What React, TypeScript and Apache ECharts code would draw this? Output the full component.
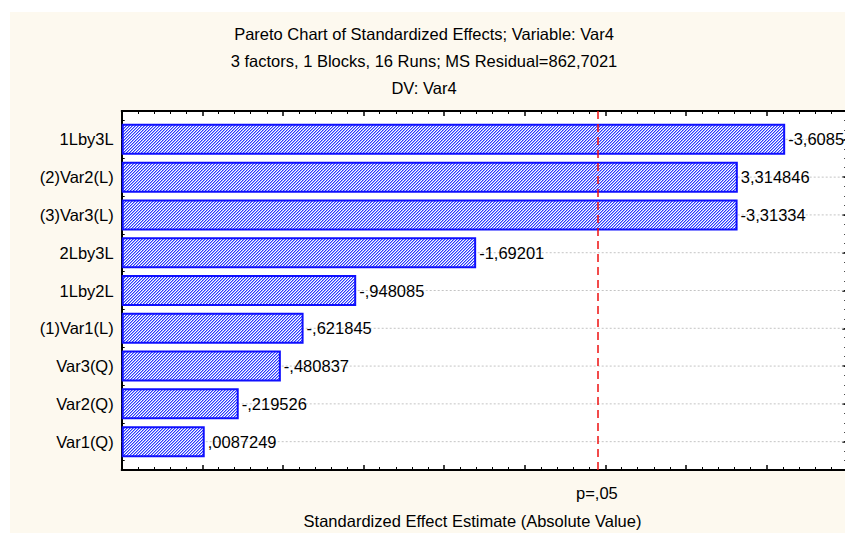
import React, { useEffect, useRef } from "react";
import * as echarts from "echarts";

// ---- data ----
const categories = [
  "1Lby3L",
  "(2)Var2(L)",
  "(3)Var3(L)",
  "2Lby3L",
  "1Lby2L",
  "(1)Var1(L)",
  "Var3(Q)",
  "Var2(Q)",
  "Var1(Q)",
];
const effects = [-3.6085, 3.314846, -3.31334, -1.69201, -0.948085, -0.621845, -0.480837, -0.219526, 0.0087249];
const effectLabels = ["-3,6085", "3,314846", "-3,31334", "-1,69201", "-,948085", "-,621845", "-,480837", "-,219526", ",0087249"];
const criticalValue = 2.446912;
const criticalLabel = "p=,05";
const titleLines = [
  "Pareto Chart of Standardized Effects; Variable: Var4",
  "3 factors, 1 Blocks, 16 Runs; MS Residual=862,7021",
  "DV: Var4",
];
const xAxisTitle = "Standardized Effect Estimate (Absolute Value)";
const xMin = -0.5;
const xMax = 4.0;
const xStep = 0.5;
const yMin = 0.25;
const yMax = 9.75;
const rowPositions = categories.map((_, i) => i + 1);

const FONT = "'Liberation Sans', Arial, sans-serif";
const FS = 16.5;

export default function App() {
  const ref = useRef<HTMLDivElement>(null);
  useEffect(() => {
    if (!ref.current) return;
    const chart = echarts.init(ref.current, undefined, { renderer: "svg" });

    const c = document.createElement("canvas");
    c.width = 3;
    c.height = 3;
    const ctx = c.getContext("2d")!;
    ctx.fillStyle = "#ffffff";
    ctx.fillRect(0, 0, 3, 3);
    ctx.fillStyle = "#2a3aff";
    for (let i = 0; i < 3; i++) {
      ctx.fillRect(i, 2 - i, 1, 1);
    }
    ctx.fillStyle = "#9aa2ff";
    for (let i = 0; i < 3; i++) {
      ctx.fillRect((i + 1) % 3, 2 - i, 1, 1);
    }
    const pattern = { image: c.toDataURL(), repeat: "repeat", imageWidth: 3, imageHeight: 3 };

    const data = effects.map((v, i) => [Math.abs(v), rowPositions[i], i]);

    const axisLineStyle = { color: "#000", width: 2 };

    const option: any = {
      animation: false,
      backgroundColor: "#ffffff",
      graphic: [
        { type: "rect", z: -10, shape: { x: 10, y: 12, width: 840, height: 530 }, style: { fill: "#fdf9ef" } },
        ...titleLines.map((t, i) => ({
          type: "text",
          x: 424,
          y: 34 + i * 27,
          style: { text: t, align: "center", verticalAlign: "middle", fill: "#000", fontSize: FS, fontFamily: FONT },
        })),
      ],
      grid: {
        left: 121.7,
        top: 111,
        width: 725.6,
        height: 359,
        show: true,
        backgroundColor: "#ffffff",
        borderWidth: 0,
        containLabel: false,
        outerBoundsMode: "none",
      },
      xAxis: [
        {
          type: "value",
          position: "bottom",
          min: xMin,
          max: xMax,
          interval: xStep,
          axisLine: { show: true, onZero: false, lineStyle: axisLineStyle },
          axisTick: { show: true, inside: true, length: 5, lineStyle: { color: "#000", width: 1.5 } },
          minorTick: { show: true, splitNumber: 5, length: 3, lineStyle: { color: "#000", width: 1 } },
          splitLine: { show: false },
          axisLabel: {
            show: true,
            customValues: [criticalValue],
            formatter: () => criticalLabel,
            margin: 14,
            color: "#000",
            fontSize: FS,
            fontFamily: FONT,
          },
          name: xAxisTitle,
          nameLocation: "middle",
          nameGap: 42,
          nameTextStyle: { color: "#000", fontSize: FS, fontFamily: FONT, padding: [0, 24, 0, 0] },
        },
        {
          type: "value",
          position: "top",
          min: xMin,
          max: xMax,
          interval: xStep,
          axisLine: { show: true, onZero: false, lineStyle: axisLineStyle },
          axisTick: { show: true, inside: true, length: 5, lineStyle: { color: "#000", width: 1.5 } },
          minorTick: { show: true, splitNumber: 5, length: 3, lineStyle: { color: "#000", width: 1 } },
          splitLine: { show: false },
          axisLabel: { show: false },
        },
      ],
      yAxis: [
        {
          type: "value",
          position: "left",
          inverse: true,
          min: yMin,
          max: yMax,
          axisLine: { show: true, onZero: false, lineStyle: axisLineStyle },
          axisTick: { show: true, inside: true, length: 5, customValues: rowPositions, lineStyle: { color: "#000", width: 1.5 } },
          splitLine: { show: false },
          axisLabel: {
            show: true,
            customValues: rowPositions,
            formatter: (v: number) => categories[Math.round(v) - 1] ?? "",
            margin: 8,
            color: "#000",
            fontSize: FS,
            fontFamily: FONT,
          },
        },
        {
          type: "value",
          position: "left",
          inverse: true,
          min: yMin,
          max: yMax,
          interval: 0.25,
          axisLine: { show: false, onZero: false },
          axisTick: { show: true, inside: true, length: 3, lineStyle: { color: "#000", width: 1 } },
          splitLine: { show: false },
          axisLabel: { show: false },
        },
        {
          type: "value",
          position: "right",
          inverse: true,
          min: yMin,
          max: yMax,
          interval: 0.25,
          axisLine: { show: true, onZero: false, lineStyle: axisLineStyle },
          axisTick: { show: true, inside: true, length: 3, lineStyle: { color: "#000", width: 1 } },
          splitLine: { show: false },
          axisLabel: { show: false },
        },
        {
          type: "value",
          position: "right",
          inverse: true,
          min: yMin,
          max: yMax,
          axisLine: { show: false, onZero: false },
          axisTick: { show: true, inside: true, length: 5, customValues: rowPositions, lineStyle: { color: "#000", width: 1.5 } },
          splitLine: { show: false },
          axisLabel: { show: false },
        },
      ],
      series: [
        {
          type: "custom",
          xAxisIndex: 0,
          yAxisIndex: 0,
          data,
          clip: false,
          renderItem: (params: any, api: any) => {
            const v = api.value(0);
            const row = api.value(1);
            const idx = api.value(2);
            const p0 = api.coord([xMin, row]);
            const p1 = api.coord([v, row]);
            const cs = params.coordSys;
            const h = 29;
            return {
              type: "group",
              children: [
                {
                  type: "line",
                  shape: { x1: cs.x, y1: p0[1], x2: cs.x + cs.width, y2: p0[1] },
                  style: { stroke: "#c4c4c4", lineWidth: 1, lineDash: [2, 2] },
                },
                {
                  type: "rect",
                  shape: { x: p0[0] + 1, y: p0[1] - h / 2, width: p1[0] - p0[0] - 1, height: h },
                  style: { fill: pattern, stroke: "#0f0fff", lineWidth: 2 },
                },
                {
                  type: "text",
                  x: p1[0] + 4,
                  y: p0[1],
                  style: {
                    text: effectLabels[idx],
                    align: "left",
                    verticalAlign: "middle",
                    fill: "#000",
                    fontSize: FS,
                    fontFamily: FONT,
                  },
                },
              ],
            };
          },
        },
        {
          type: "line",
          data: [],
          xAxisIndex: 0,
          yAxisIndex: 0,
          z: 10,
          markLine: {
            silent: true,
            symbol: "none",
            label: { show: false },
            lineStyle: { color: "#ee1111", type: [8, 5], width: 1.5 },
            data: [{ xAxis: criticalValue }],
          },
        },
      ],
    };
    chart.setOption(option);
    return () => chart.dispose();
  }, []);
  return <div ref={ref} style={{ position: "absolute", left: 0, top: 0, width: 845, height: 533 }} />;
}
